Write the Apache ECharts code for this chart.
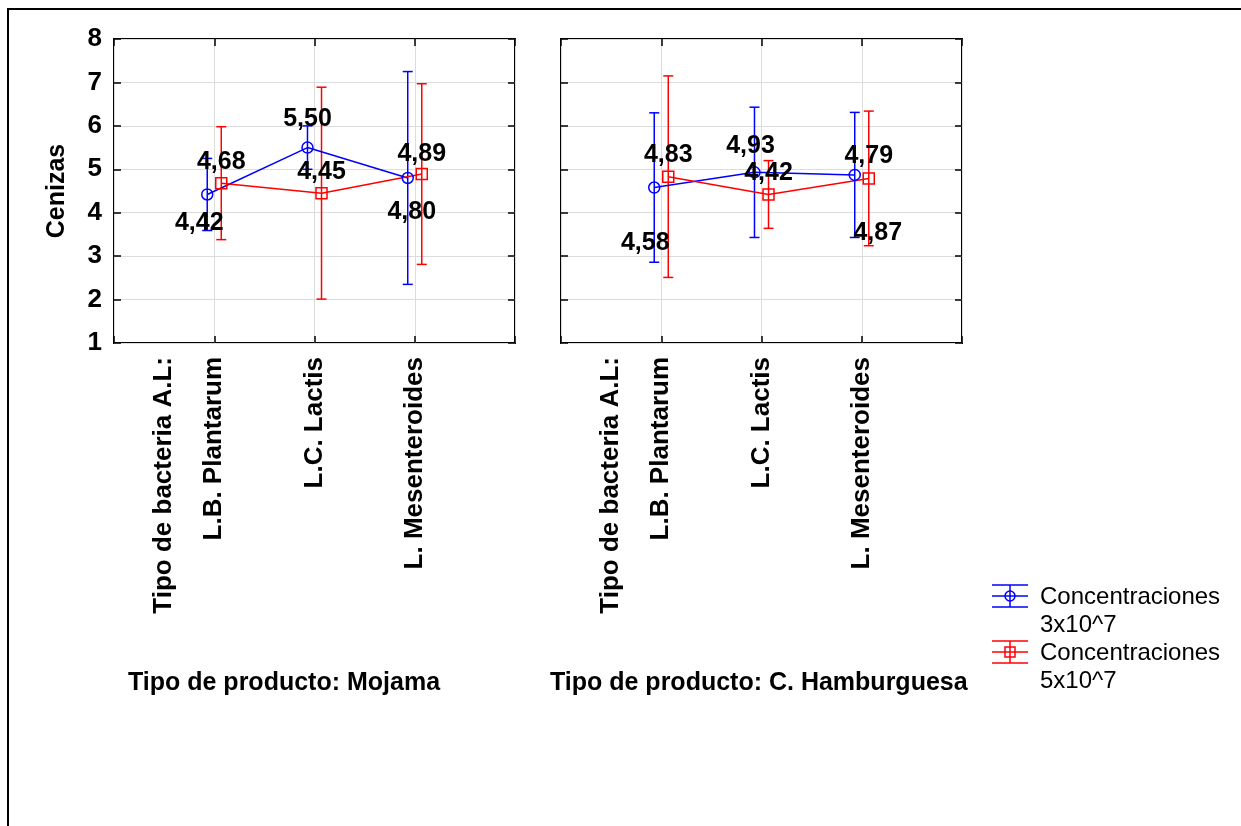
<!DOCTYPE html>
<html>
<head>
<meta charset="utf-8">
<script src="https://cdn.jsdelivr.net/npm/echarts@6/dist/echarts.min.js"></script>
<style>
  html, body { margin: 0; padding: 0; background: #fff; }
  #chart { width: 1241px; height: 826px; }
</style>
</head>
<body>
<div id="chart"></div>
<script>
  // categorias
  const bacterias = ['L.B. Plantarum', 'L.C. Lactis', 'L. Mesenteroides'];
  const bandLabels = ['Tipo de bacteria A.L:', '', '', ''];
  const productos = ['Tipo de producto: Mojama', 'Tipo de producto: C. Hamburguesa'];
  const concentraciones = ['Concentraciones\n3x10^7', 'Concentraciones\n5x10^7'];

  // Mojama
  const mojama3Mean = [4.42, 5.50, 4.80];
  const mojama3Low = [3.59, 5.00, 2.35];
  const mojama3High = [5.25, 6.00, 7.25];
  const mojama5Mean = [4.68, 4.45, 4.89];
  const mojama5Low = [3.38, 2.01, 2.81];
  const mojama5High = [5.98, 6.89, 6.97];

  // C. Hamburguesa
  const hamb3Mean = [4.58, 4.93, 4.87];
  const hamb3Low = [2.86, 3.43, 3.43];
  const hamb3High = [6.30, 6.43, 6.31];
  const hamb5Mean = [4.83, 4.42, 4.79];
  const hamb5Low = [2.51, 3.64, 3.24];
  const hamb5High = [7.15, 5.20, 6.34];

  // posicion de las etiquetas respecto al punto (px)
  const mojama3LabelOff = [[-8, 29], [0, -28], [4, 34]];
  const mojama5LabelOff = [[0, -21], [0, -21], [0, -20]];
  const hamb3LabelOff = [[-9, 56], [-4, -26], [23, 58]];
  const hamb5LabelOff = [[0, -22], [0, -21], [0, -22]];

  const BLUE = '#0000ff';
  const RED = '#ff0000';
  const FONT = '"Liberation Sans", Arial, sans-serif';
  const SHIFT = 0.07;

  const chart = echarts.init(document.getElementById('chart'));

  function errorBars(axisIndex, low, high, offset, color) {
    return {
      type: 'custom',
      xAxisIndex: axisIndex * 3,
      yAxisIndex: axisIndex * 2,
      data: low.map((l, i) => [i + 1 + offset, l, high[i]]),
      encode: { x: 0, y: [1, 2] },
      silent: true,
      z: 2,
      renderItem(params, api) {
        const x = api.value(0);
        const lo = api.coord([x, api.value(1)]);
        const hi = api.coord([x, api.value(2)]);
        const w = 5;
        const st = { stroke: color, lineWidth: 1.5 };
        return {
          type: 'group',
          children: [
            { type: 'line', shape: { x1: lo[0], y1: lo[1], x2: hi[0], y2: hi[1] }, style: st },
            { type: 'line', shape: { x1: lo[0] - w, y1: lo[1], x2: lo[0] + w, y2: lo[1] }, style: st },
            { type: 'line', shape: { x1: hi[0] - w, y1: hi[1], x2: hi[0] + w, y2: hi[1] }, style: st }
          ]
        };
      }
    };
  }

  function meanLine(axisIndex, mean, offset, color, symbol, labelOff) {
    return {
      type: 'line',
      xAxisIndex: axisIndex * 3,
      yAxisIndex: axisIndex * 2,
      data: mean.map((m, i) => ({ value: [i + 1 + offset, m], label: { offset: labelOff[i] } })),
      symbol: symbol,
      symbolSize: 11,
      showAllSymbol: true,
      lineStyle: { color: color, width: 1.5 },
      itemStyle: { color: 'rgba(0,0,0,0)', borderColor: color, borderWidth: 1.5 },
      label: {
        show: true,
        position: 'inside',
        formatter: p => p.value[1].toFixed(2).replace('.', ','),
        color: '#000',
        fontWeight: 'bold',
        fontSize: 25,
        fontFamily: FONT
      },
      z: 3
    };
  }

  const labelStyle = { color: '#000', fontWeight: 'bold', fontSize: 26, fontFamily: FONT };
  const titleStyle = { color: '#000', fontWeight: 'bold', fontSize: 25, fontFamily: FONT };
  const tick = { inside: true, length: 7, lineStyle: { color: '#000', width: 1.5 } };
  const grids = [
    { left: 114, top: 39, width: 401, height: 304, show: true, borderColor: '#000', borderWidth: 2 },
    { left: 561, top: 39, width: 401, height: 304, show: true, borderColor: '#000', borderWidth: 2 }
  ];

  const xAxes = [];
  const yAxes = [];
  grids.forEach((g, gi) => {
    xAxes.push({
      type: 'value', gridIndex: gi, position: 'bottom', min: 0, max: 4, interval: 1,
      axisLine: { show: false, onZero: false },
      axisTick: tick,
      splitLine: { show: true, lineStyle: { color: '#dcdcdc', width: 1 } },
      axisLabel: Object.assign({ rotate: 90, margin: 14, formatter: v => bacterias[v - 1] || '' }, labelStyle)
    });
    xAxes.push({
      type: 'category', gridIndex: gi, position: 'bottom', data: bandLabels, boundaryGap: true,
      axisLine: { show: false, onZero: false }, axisTick: { show: false }, splitLine: { show: false },
      axisLabel: Object.assign({ rotate: 90, margin: 14, interval: 0 }, labelStyle)
    });
    xAxes.push({
      type: 'value', gridIndex: gi, position: 'top', min: 0, max: 4, interval: 1,
      axisLine: { show: false, onZero: false },
      axisTick: tick,
      splitLine: { show: false }, axisLabel: { show: false }
    });
    yAxes.push({
      type: 'value', gridIndex: gi, position: 'left', min: 1, max: 8, interval: 1,
      name: gi === 0 ? 'Cenizas' : '', nameLocation: 'middle', nameGap: 44,
      nameTextStyle: titleStyle,
      axisLine: { show: false, onZero: false },
      axisTick: tick,
      splitLine: { show: true, lineStyle: { color: '#dcdcdc', width: 1 } },
      axisLabel: Object.assign({ show: gi === 0, margin: 12 }, labelStyle)
    });
    yAxes.push({
      type: 'value', gridIndex: gi, position: 'right', min: 1, max: 8, interval: 1,
      axisLine: { show: false, onZero: false },
      axisTick: tick,
      splitLine: { show: false }, axisLabel: { show: false }
    });
  });

  function legendIcon(cy, color, marker) {
    const st = { stroke: color, lineWidth: 1.5, fill: 'none' };
    const children = [
      { type: 'line', shape: { x1: 992, y1: cy - 11, x2: 1028, y2: cy - 11 }, style: st },
      { type: 'line', shape: { x1: 992, y1: cy, x2: 1028, y2: cy }, style: st },
      { type: 'line', shape: { x1: 992, y1: cy + 11, x2: 1028, y2: cy + 11 }, style: st },
      { type: 'line', shape: { x1: 1010, y1: cy - 11, x2: 1010, y2: cy + 11 }, style: st }
    ];
    if (marker === 'circle') {
      children.push({ type: 'circle', shape: { cx: 1010, cy: cy, r: 5 }, style: st });
    } else {
      children.push({ type: 'rect', shape: { x: 1005, y: cy - 5, width: 10, height: 10 }, style: st });
    }
    return { type: 'group', silent: true, children: children };
  }

  const option = {
    animation: false,
    backgroundColor: '#fff',
    title: [
      { text: productos[0], left: 128, top: 671, padding: 0, textStyle: titleStyle },
      { text: productos[1], left: 550, top: 671, padding: 0, textStyle: titleStyle }
    ],
    grid: grids,
    xAxis: xAxes,
    yAxis: yAxes,
    graphic: [
      { type: 'rect', silent: true, shape: { x: 8, y: 9, width: 1260, height: 840 },
        style: { fill: 'none', stroke: '#000', lineWidth: 2 } },
      legendIcon(596, BLUE, 'circle'),
      { type: 'text', silent: true, x: 1040, y: 583,
        style: { text: concentraciones[0], fill: '#000', fontSize: 24, fontFamily: FONT, lineHeight: 28, verticalAlign: 'top' } },
      legendIcon(652, RED, 'rect'),
      { type: 'text', silent: true, x: 1040, y: 639,
        style: { text: concentraciones[1], fill: '#000', fontSize: 24, fontFamily: FONT, lineHeight: 28, verticalAlign: 'top' } }
    ],
    series: [
      errorBars(0, mojama3Low, mojama3High, -SHIFT, BLUE),
      errorBars(0, mojama5Low, mojama5High, SHIFT, RED),
      errorBars(1, hamb3Low, hamb3High, -SHIFT, BLUE),
      errorBars(1, hamb5Low, hamb5High, SHIFT, RED),
      meanLine(0, mojama3Mean, -SHIFT, BLUE, 'circle', mojama3LabelOff),
      meanLine(0, mojama5Mean, SHIFT, RED, 'rect', mojama5LabelOff),
      meanLine(1, hamb3Mean, -SHIFT, BLUE, 'circle', hamb3LabelOff),
      meanLine(1, hamb5Mean, SHIFT, RED, 'rect', hamb5LabelOff)
    ]
  };

  chart.setOption(option);
</script>
</body>
</html>
